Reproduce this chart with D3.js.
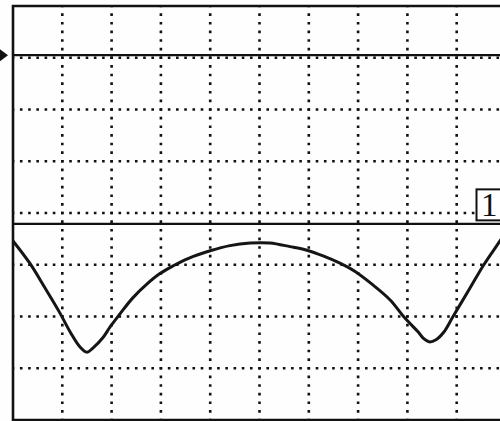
<!DOCTYPE html>
<html><head><meta charset="utf-8">
<script src="https://cdn.jsdelivr.net/npm/d3@7"></script>
<style>html,body{margin:0;padding:0;background:#fff;overflow:hidden}</style>
</head><body>
<svg id="c" width="500" height="421"></svg>
<script>
// Data: time in divisions, channel 1 voltage in divisions (centre = 0)
const timeDiv = [0,0.34,0.65,0.95,1.16,1.36,1.50,1.62,1.83,1.97,2.17,2.43,2.72,2.98,3.25,3.55,4.00,4.40,4.81,5.21,5.62,5.96,6.29,6.63,6.94,7.30,7.65,7.95,8.22,8.32,8.44,8.58,8.74,8.92,9.27,9.55,9.82,9.92];
const ch1Volts = [-0.54,-0.97,-1.45,-1.93,-2.30,-2.59,-2.69,-2.61,-2.40,-2.20,-1.95,-1.64,-1.37,-1.17,-1.02,-0.88,-0.73,-0.63,-0.58,-0.58,-0.65,-0.72,-0.83,-0.97,-1.13,-1.39,-1.68,-2.03,-2.30,-2.42,-2.49,-2.45,-2.30,-2.01,-1.45,-1.00,-0.62,-0.48];
const xGridDivs = [1,2,3,4,5,6,7,8,9];
const yGridDivs = [-3,-2,-1,0,1,2,3];
const ch2Level = 3.05;   // channel 2 reference line
const ch1Level = -0.21;  // channel 1 ground line
const ch1Label = "1";

const svg = d3.select("#c");
const x = d3.scaleLinear().domain([0,10]).range([13,506]);
const y = d3.scaleLinear().domain([-4,4]).range([420,6]);

svg.append("rect").attr("width",500).attr("height",421).attr("fill","#fefefe");

const stepX = (x(1)-x(0))/6, stepY = (y(0)-y(1))/6;
// dotted grid
svg.append("g").selectAll("line").data(yGridDivs).join("line")
  .attr("x1",x(0)).attr("x2",x(10)).attr("y1",d=>y(d)).attr("y2",d=>y(d))
  .attr("stroke","#111").attr("stroke-width",2.6)
  .attr("stroke-dasharray",`2.6 ${stepX-2.6}`).attr("stroke-dashoffset",1.3);
svg.append("g").selectAll("line").data(xGridDivs).join("line")
  .attr("x1",d=>x(d)).attr("x2",d=>x(d)).attr("y1",y(4)).attr("y2",y(-4))
  .attr("stroke","#111").attr("stroke-width",2.6)
  .attr("stroke-dasharray",`2.6 ${stepY-2.6}`).attr("stroke-dashoffset",1.3);

// frame
svg.append("path").attr("d",`M${x(10)},${y(4)}H${x(0)}V${y(-4)}H${x(10)}`)
  .attr("fill","none").attr("stroke","#111").attr("stroke-width",2.6);

// reference lines
svg.append("line").attr("x1",x(0)).attr("x2",500).attr("y1",y(ch2Level)).attr("y2",y(ch2Level))
  .attr("stroke","#111").attr("stroke-width",2.4);
svg.append("line").attr("x1",x(0)).attr("x2",500).attr("y1",y(ch1Level)).attr("y2",y(ch1Level))
  .attr("stroke","#111").attr("stroke-width",2.4);

// marker triangle on left
const ty = y(ch2Level);
svg.append("path").attr("d",`M0,${ty-6}L8,${ty}L0,${ty+6}Z`).attr("fill","#111");

// channel label box
const by = y(ch1Level);
svg.append("rect").attr("x",476.5).attr("y",by-34.5).attr("width",30).attr("height",31)
  .attr("fill","#fff").attr("stroke","#111").attr("stroke-width",2);
svg.append("text").attr("x",481).attr("y",by-8).text(ch1Label)
  .attr("font-family","Liberation Serif, DejaVu Serif, serif").attr("font-size",33).attr("fill","#111");

// trace
const pts = timeDiv.map((t,i)=>[t,ch1Volts[i]]);
svg.append("path").datum(pts)
  .attr("d",d3.line().x(d=>x(d[0])).y(d=>y(d[1])).curve(d3.curveCatmullRom.alpha(0.5)))
  .attr("fill","none").attr("stroke","#151515").attr("stroke-width",3).attr("stroke-linejoin","round");
</script>
</body></html>
